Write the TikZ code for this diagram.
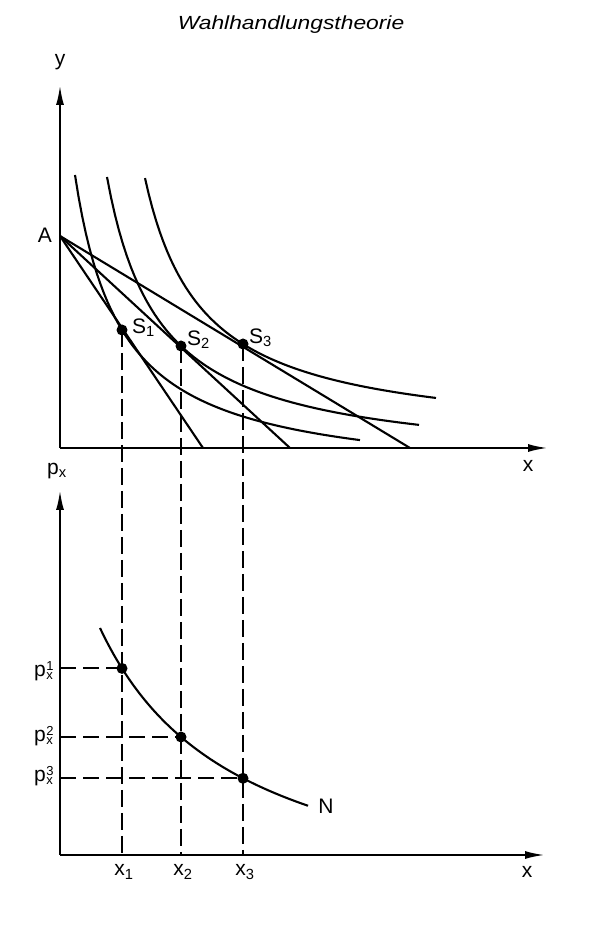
\documentclass[tikz,border=0pt]{standalone}
\usepackage{fontspec}
\setmainfont{Liberation Sans}
\usetikzlibrary{arrows.meta}
\newcommand\pxlab[1]{p\kern0.5pt\rlap{\raisebox{6pt}{\fontsize{13}{13}\selectfont #1}}\raisebox{-2.5pt}{\fontsize{13}{13}\selectfont x}}
\begin{document}
\begin{tikzpicture}[x=1pt,y=1pt,
  ax/.style={line width=2.2pt,-{Latex[length=20pt,width=8pt]}},
  crv/.style={line width=2.1pt},
  dsh/.style={line width=2.1pt,dash pattern=on 17pt off 6pt},
  hdsh/.style={line width=2pt,dash pattern=on 16pt off 7pt},
  dot/.style={circle,fill,inner sep=0pt,minimum size=11pt},
  lbl/.style={font=\fontsize{21}{24}\selectfont,inner sep=1pt}]
\useasboundingbox (0,0) rectangle (600,927);
\node[font=\itshape\fontsize{19}{22}\selectfont,xscale=1.2] (title) at (291,902) {Wahlhandlungstheorie};
% ---------- top diagram ----------
\coordinate (O1) at (60,479);
\coordinate (Ytip) at (60,842);
\coordinate (Xtip) at (548,479);
\draw[ax] (O1) -- (Ytip);
\draw[ax] (O1) -- (Xtip);
\node[lbl] (ylab) at (60,865) {y};
\node[lbl] (xlab) at (528,461) {x};
\coordinate (A) at (60,691);
\node[lbl,anchor=east] (Alab) at (53,692) {A};
\coordinate (B1) at (203,479);
\coordinate (B2) at (290,479);
\coordinate (B3) at (410,479);
\draw[crv] (A) -- (B1);
\draw[crv] (A) -- (B2);
\draw[crv] (A) -- (B3);
\draw[crv] plot[domain=75:360,samples=80] (\x,{479-35.35+14338/(\x-28.5)});
\draw[crv] plot[domain=107:419,samples=80] (\x,{479-19+15370/(\x-54)});
\draw[crv] plot[domain=145:436,samples=80] (\x,{479+6.6+15140/(\x-87.5)});
\node[dot] (S1) at (122,597) {};
\node[dot] (S2) at (181,581) {};
\node[dot] (S3) at (243,583) {};
\node[lbl,anchor=west] (S1lab) at (131,599) {S\textsubscript{1}};
\node[lbl,anchor=west] (S2lab) at (186,587) {S\textsubscript{2}};
\node[lbl,anchor=west] (S3lab) at (248,589) {S\textsubscript{3}};
% ---------- bottom diagram ----------
\coordinate (O2) at (60,72);
\coordinate (Ytip2) at (60,437);
\coordinate (Xtip2) at (545,72);
\draw[ax] (O2) -- (Ytip2);
\draw[ax] (O2) -- (Xtip2);
\node[lbl] (pxlab) at (57,456) {p\textsubscript{x}};
\node[lbl] (xlab2) at (527,55) {x};
\draw[crv] plot[domain=100:308,samples=80] (\x,{1.6+4163.6/((\x+40)/10)});
\node[lbl] (Nlab) at (326,121) {N};
\node[dot] (D1) at (122,258.6) {};
\node[dot] (D2) at (181,190.0) {};
\node[dot] (D3) at (243,148.7) {};
\coordinate (X1) at (122,72);
\coordinate (X2) at (181,72);
\coordinate (X3) at (243,72);
\coordinate (P1) at (60,258.6);
\coordinate (P2) at (60,190.0);
\coordinate (P3) at (60,148.7);
\draw[dsh] (S1.center) -- (X1);
\draw[dsh] (S2.center) -- (X2);
\draw[dsh] (S3.center) -- (X3);
\draw[hdsh] (P1) -- (D1.center);
\draw[hdsh] (P2) -- (D2.center);
\draw[hdsh] (P3) -- (D3.center);
\node[lbl,anchor=base east,inner sep=0pt] (p1lab) at (53,250) {\pxlab{1}\hspace{8pt}};
\node[lbl,anchor=base east,inner sep=0pt] (p2lab) at (53,185) {\pxlab{2}\hspace{8pt}};
\node[lbl,anchor=base east,inner sep=0pt] (p3lab) at (53,145) {\pxlab{3}\hspace{8pt}};
\node[lbl] (x1lab) at (124,55) {x\textsubscript{1}};
\node[lbl] (x2lab) at (183,55) {x\textsubscript{2}};
\node[lbl] (x3lab) at (245,55) {x\textsubscript{3}};
\end{tikzpicture}
\end{document}
